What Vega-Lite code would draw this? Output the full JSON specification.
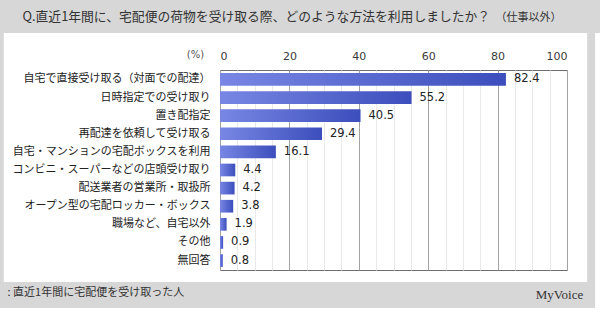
{
  "$schema": "https://vega.github.io/schema/vega-lite/v6.json",
  "width": 347,
  "height": 200,
  "autosize": "none",
  "padding": {"left": 220, "top": 70, "right": 33, "bottom": 42},
  "background": "#ffffff",
  "config": {
    "view": {"stroke": "#6e6e6e", "strokeWidth": 1},
    "font": "Noto Sans CJK JP"
  },
  "layer": [
    {
      "data": {"values": [{}]},
      "mark": {"type": "rect", "color": "#d7d7d7"},
      "encoding": {
        "x": {"datum": -63.5, "type": "quantitative", "scale": {"domain": [0, 100], "nice": false}, "axis": null},
        "x2": {"datum": 109.6},
        "y": {"datum": 1.185, "type": "quantitative", "scale": {"domain": [0, 1], "nice": false, "zero": false},
          "axis": {"orient": "left", "labels": false, "ticks": false, "domain": false, "grid": false, "zindex": 1,
            "title": "Q.直近1年間に、宅配便の荷物を受け取る際、どのような方法を利用しましたか？",
            "titleX": -198, "titleY": -54, "titleAngle": 0, "titleAlign": "left", "titleBaseline": "middle",
            "titleFontSize": 12.8, "titleFontWeight": "normal", "titleColor": "#333333", "titleFont": "Noto Sans CJK JP"}},
        "y2": {"datum": 1.36}
      }
    },
    {
      "data": {"values": [{}]},
      "mark": {"type": "rect", "color": "#d7d7d7"},
      "encoding": {
        "x": {"datum": -63.5, "type": "quantitative", "scale": {"domain": [0, 100], "nice": false}, "axis": null},
        "x2": {"datum": 108.1},
        "y": {"datum": -0.06, "type": "quantitative", "scale": {"domain": [0, 1], "nice": false, "zero": false},
          "axis": {"orient": "left", "labels": false, "ticks": false, "domain": false, "grid": false, "zindex": 1,
            "title": ": 直近1年間に宅配便を受け取った人",
            "titleX": -213, "titleY": 222, "titleAngle": 0, "titleAlign": "left", "titleBaseline": "middle",
            "titleFontSize": 11, "titleFontWeight": "normal", "titleColor": "#333333", "titleFont": "Noto Sans CJK JP"}},
        "y2": {"datum": -0.19}
      }
    },
    {
      "data": {"values": [{}]},
      "mark": {"type": "rect", "color": "#d7d7d7"},
      "encoding": {
        "x": {"datum": -63.5, "type": "quantitative", "scale": {"domain": [0, 100], "nice": false}, "axis": null},
        "x2": {"datum": -62.3},
        "y": {"datum": -0.06, "type": "quantitative", "scale": {"domain": [0, 1], "nice": false, "zero": false}, "axis": null},
        "y2": {"datum": 1.185}
      }
    },
    {
      "data": {"values": [{}]},
      "mark": {"type": "rect", "color": "#d7d7d7"},
      "encoding": {
        "x": {"datum": 105.8, "type": "quantitative", "scale": {"domain": [0, 100], "nice": false}, "axis": null},
        "x2": {"datum": 108.1},
        "y": {"datum": -0.06, "type": "quantitative", "scale": {"domain": [0, 1], "nice": false, "zero": false},
          "axis": {"orient": "right", "labels": false, "ticks": false, "domain": false, "grid": false, "zindex": 1,
            "title": "MyVoice",
            "titleX": -8, "titleY": 224, "titleAngle": 0, "titleAlign": "center", "titleBaseline": "middle",
            "titleFontSize": 13, "titleFontWeight": "normal", "titleColor": "#333333", "titleFont": "Liberation Serif"}},
        "y2": {"datum": 1.185}
      }
    },
    {
      "data": {
        "values": [
          {"label": "自宅で直接受け取る（対面での配達）", "v": 82.4},
          {"label": "日時指定での受け取り", "v": 55.2},
          {"label": "置き配指定", "v": 40.5},
          {"label": "再配達を依頼して受け取る", "v": 29.4},
          {"label": "自宅・マンションの宅配ボックスを利用", "v": 16.1},
          {"label": "コンビニ・スーパーなどの店頭受け取り", "v": 4.4},
          {"label": "配送業者の営業所・取扱所", "v": 4.2},
          {"label": "オープン型の宅配ロッカー・ボックス", "v": 3.8},
          {"label": "職場など、自宅以外", "v": 1.9},
          {"label": "その他", "v": 0.9},
          {"label": "無回答", "v": 0.8}
        ]
      },
      "encoding": {
        "y": {"field": "label", "type": "nominal", "sort": null,
          "scale": {"paddingInner": 0.3, "paddingOuter": 0.17},
          "axis": {"orient": "left", "ticks": false, "domain": false, "grid": false, "zindex": 1,
            "labelPadding": 10, "labelFontSize": 11, "labelColor": "#222222", "labelLimit": 300, "labelFont": "Noto Sans CJK JP",
            "title": "（仕事以外）",
            "titleX": 275, "titleY": -53, "titleAngle": 0, "titleAlign": "left", "titleBaseline": "middle",
            "titleFontSize": 11, "titleFontWeight": "normal", "titleColor": "#333333", "titleFont": "Noto Sans CJK JP"}},
        "x": {"field": "v", "type": "quantitative", "scale": {"domain": [0, 100], "nice": false},
          "axis": {"orient": "top", "values": [0, 5, 10, 15, 20, 25, 30, 35, 40, 45, 50, 55, 60, 65, 70, 75, 80, 85, 90, 95, 100],
            "labelExpr": "datum.value % 20 === 0 ? datum.label : ''",
            "ticks": false, "domain": false, "grid": true,
            "gridColor": {"condition": {"test": "datum.value % 20 === 0", "value": "#a2a2a2"}, "value": "#e9e9e9"},
            "labelPadding": 9, "labelFontSize": 11, "labelColor": "#3a3a3a", "labelFont": "DejaVu Sans",
            "title": "(%)", "titleX": -25, "titleY": -16, "titleAngle": 0, "titleAlign": "center", "titleBaseline": "middle",
            "titleFontSize": 10, "titleFontWeight": "normal", "titleColor": "#555555", "titleFont": "DejaVu Sans"}}
      },
      "layer": [
        {
          "mark": {"type": "bar",
            "color": {"gradient": "linear", "x1": 0, "y1": 0, "x2": 1, "y2": 0,
              "stops": [{"offset": 0, "color": "#7887e4"}, {"offset": 1, "color": "#3c4ebc"}]}}
        },
        {
          "mark": {"type": "text", "align": "left", "baseline": "middle", "dx": 8, "fontSize": 11.5, "font": "DejaVu Sans", "color": "#222222"},
          "encoding": {"text": {"field": "v", "type": "quantitative", "format": ".1f"}}
        }
      ]
    }
  ],
  "resolve": {"scale": {"y": "independent"}, "axis": {"x": "independent", "y": "independent"}}
}
